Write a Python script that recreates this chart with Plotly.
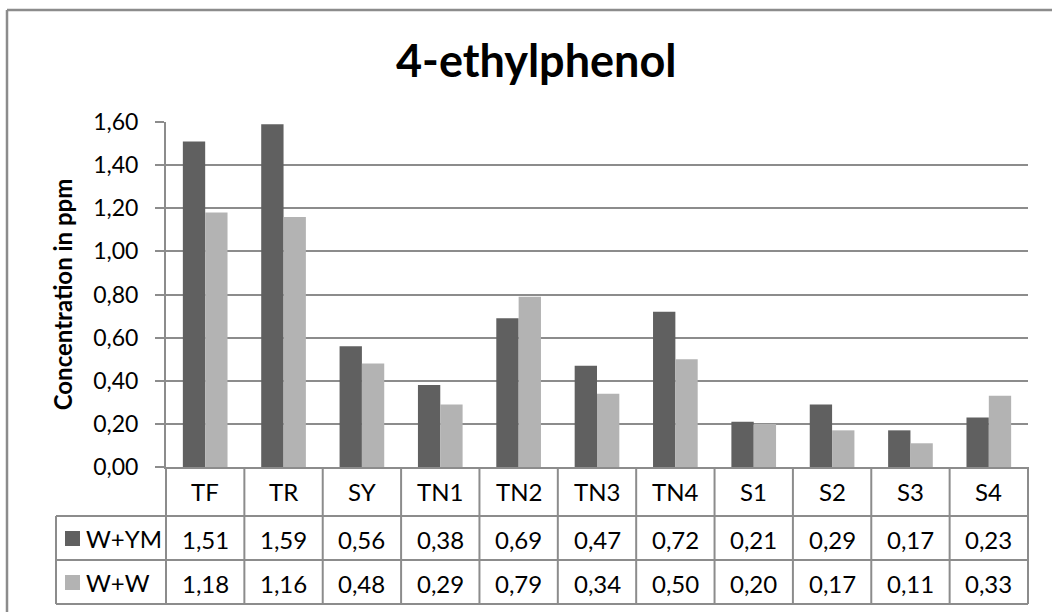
import plotly.graph_objects as go

# ---- data -------------------------------------------------------------
categories = ["TF", "TR", "SY", "TN1", "TN2", "TN3", "TN4", "S1", "S2", "S3", "S4"]
series_names = ["W+YM", "W+W"]
w_ym = [1.51, 1.59, 0.56, 0.38, 0.69, 0.47, 0.72, 0.21, 0.29, 0.17, 0.23]
w_w = [1.18, 1.16, 0.48, 0.29, 0.79, 0.34, 0.50, 0.20, 0.17, 0.11, 0.33]
y_ticks = [0.0, 0.2, 0.4, 0.6, 0.8, 1.0, 1.2, 1.4, 1.6]

# ---- styling ------------------------------------------------------------
W, H = 1052, 612
ML, MR, MT, MB = 166, 24, 122, 145
PW, PH = W - ML - MR, H - MT - MB
FONT = "Lato"
DARK, LIGHT = "#606060", "#b3b3b3"
LINE = "#8c8c8c"
TABLE_SIZE = 24

series_values = [w_ym, w_w]
series_colors = [DARK, LIGHT]


def fx(px):
    """Pixel x -> paper x."""
    return (px - ML) / PW


def fy(py):
    """Pixel y -> paper y."""
    return (H - MB - py) / PH


def fmt(v):
    return f"{v:.2f}".replace(".", ",")


fig = go.Figure()
for name, vals, col in zip(series_names, series_values, series_colors):
    fig.add_trace(go.Bar(x=categories, y=vals, name=name,
                         marker=dict(color=col, line=dict(width=0)),
                         showlegend=False))

# data table geometry (pixel rows below the plot area)
row_edges = [467, 516, 560, 604]
legend_left = 56

shapes = []
n = len(categories)
# vertical cell borders
for i in range(n + 1):
    shapes.append(dict(type="line", xref="paper", yref="paper",
                       x0=i / n, x1=i / n, y0=fy(row_edges[0]), y1=fy(row_edges[-1]),
                       line=dict(color=LINE, width=2)))
# legend column left border
shapes.append(dict(type="line", xref="paper", yref="paper",
                   x0=fx(legend_left), x1=fx(legend_left),
                   y0=fy(row_edges[1]), y1=fy(row_edges[-1]),
                   line=dict(color=LINE, width=2)))
# horizontal row borders
for r in row_edges[1:]:
    shapes.append(dict(type="line", xref="paper", yref="paper",
                       x0=fx(legend_left), x1=1, y0=fy(r), y1=fy(r),
                       line=dict(color=LINE, width=2)))
# chart frame (top and left edges)
shapes.append(dict(type="line", xref="paper", yref="paper",
                   x0=fx(7), x1=fx(W + 20), y0=fy(10), y1=fy(10),
                   line=dict(color=LINE, width=2.5)))
shapes.append(dict(type="line", xref="paper", yref="paper",
                   x0=fx(7), x1=fx(7), y0=fy(10), y1=fy(H + 20),
                   line=dict(color=LINE, width=2.5)))

annotations = []
# category header row
hdr_c = (row_edges[0] + row_edges[1]) / 2
for c in categories:
    annotations.append(dict(x=c, y=fy(hdr_c), xref="x", yref="paper",
                            text=c, showarrow=False, xanchor="center", yanchor="middle",
                            font=dict(family=FONT, size=TABLE_SIZE, color="#000")))
# value rows + legend keys
for k, (name, vals, col) in enumerate(zip(series_names, series_values, series_colors)):
    top, bot = row_edges[k + 1], row_edges[k + 2]
    mid = (top + bot) / 2
    for c, v in zip(categories, vals):
        annotations.append(dict(x=c, y=fy(mid + 1), xref="x", yref="paper",
                                text=fmt(v), showarrow=False, xanchor="center", yanchor="middle",
                                font=dict(family=FONT, size=TABLE_SIZE, color="#000")))
    annotations.append(dict(x=fx(84), y=fy(mid), xref="paper", yref="paper",
                            text=name, showarrow=False, xanchor="left", yanchor="middle",
                            font=dict(family=FONT, size=TABLE_SIZE, color="#000")))
    shapes.append(dict(type="rect", xref="paper", yref="paper",
                       x0=fx(65), x1=fx(80), y0=fy(mid + 8), y1=fy(mid - 7),
                       fillcolor=col, line=dict(width=0)))

# chart title
annotations.append(dict(x=fx(536), y=fy(60), xref="paper", yref="paper",
                        text="<b>4-ethylphenol</b>", showarrow=False,
                        xanchor="center", yanchor="middle",
                        font=dict(family=FONT, size=45, color="#000")))

fig.update_layout(
    width=W, height=H,
    margin=dict(l=ML, r=MR, t=MT, b=MB, autoexpand=False),
    paper_bgcolor="white", plot_bgcolor="white",
    separators=",.",
    barmode="group", bargap=0.43, bargroupgap=0,
    font=dict(family=FONT, color="#000"),
    shapes=shapes, annotations=annotations,
    xaxis=dict(range=[-0.5, n - 0.5], showticklabels=False, ticks="",
               showgrid=False, zeroline=False, showline=True,
               linecolor=LINE, linewidth=2, fixedrange=True),
    yaxis=dict(range=[0, 1.6], tickvals=y_ticks, tickformat=".2f",
               ticks="outside", ticklen=9, tickcolor=LINE, tickwidth=2,
               ticklabelstandoff=12,
               tickfont=dict(family=FONT, size=23, color="#000"),
               showgrid=True, gridcolor=LINE, gridwidth=2,
               zeroline=False, showline=True, linecolor=LINE, linewidth=2,
               title=dict(text="<b>Concentration in ppm</b>", standoff=14,
                          font=dict(family=FONT, size=24, color="#000")),
               fixedrange=True),
)

fig.write_html("out.html", config={"displayModeBar": False})
